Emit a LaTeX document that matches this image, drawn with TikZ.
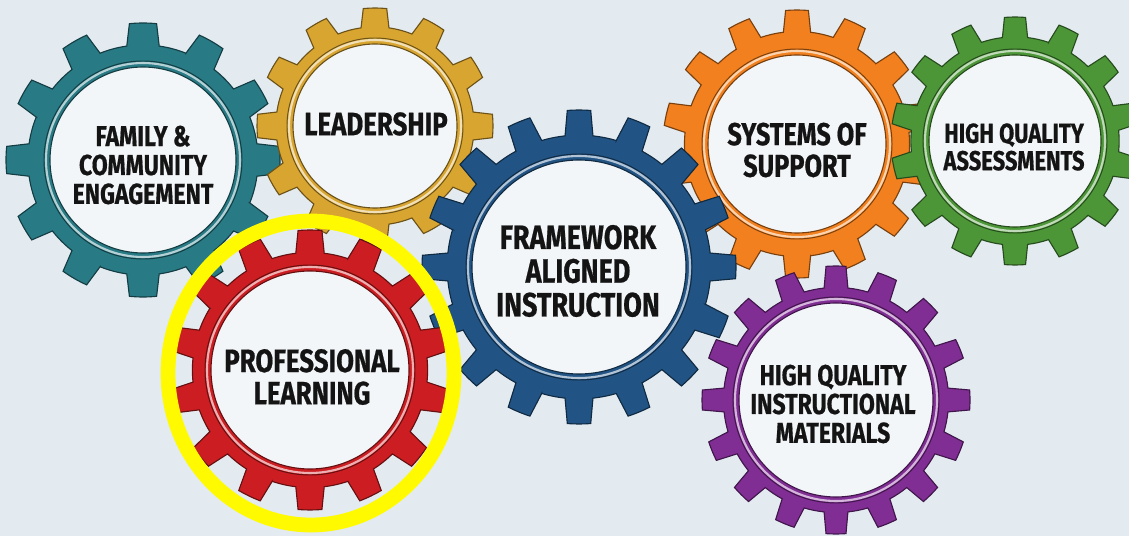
\documentclass[tikz,border=0pt]{standalone}
\usepackage{fontspec}
\usepackage{xcolor}
\usepackage{tikz}
\newfontfamily\gearfont{Fira Sans}[FakeStretch=0.8, BoldFeatures={FakeBold=0.6}]

\definecolor{bgblue}{RGB}{227,235,241}
\definecolor{innerwhite}{RGB}{243,246,248}
\definecolor{labelblack}{RGB}{20,20,20}
\definecolor{tealgear}{RGB}{40,122,133}
\definecolor{goldgear}{RGB}{216,165,48}
\definecolor{redgear}{RGB}{204,30,34}
\definecolor{bluegear}{RGB}{33,84,132}
\definecolor{orangegear}{RGB}{242,128,30}
\definecolor{greengear}{RGB}{76,150,56}
\definecolor{purplegear}{RGB}{128,45,148}
\definecolor{hiyellow}{RGB}{255,250,0}

\tikzset{
  gearlabel/.style={align=center, text=labelblack,
    font=\gearfont\bfseries\fontsize{#1}{#1}\selectfont},
  gearlabel/.default=23,
  highlight/.style={draw=hiyellow, line width=10.5pt},
}

% gear: centre, outer radius, teeth, colour, inner radius
\newcommand{\drawgear}[5]{%
  \begin{scope}[shift={#1}]
    \pgfmathsetmacro\gpitch{360/#3}
    \pgfmathsetmacro\gbase{0.27*\gpitch}
    \pgfmathsetmacro\gtip{0.19*\gpitch}
    \pgfmathsetmacro\groot{0.84*#2}
    \pgfmathsetmacro\gring{#5+4}
    \pgfmathsetmacro\gringout{#5+6}
    \pgfmathtruncatemacro\glast{#3-1}
    \filldraw[fill=#4, draw=#4!50!black, line width=0.8pt]
      (-90-\gbase:\groot)
      \foreach \k [evaluate=\k as \tA using {\k*\gpitch-90-\gbase},
                   evaluate=\k as \tB using {\k*\gpitch-90-\gtip},
                   evaluate=\k as \tC using {\k*\gpitch-90+\gtip},
                   evaluate=\k as \tD using {\k*\gpitch-90+\gbase},
                   evaluate=\k as \tE using {(\k+1)*\gpitch-90-\gbase}] in {0,...,\glast}
      { -- (\tA:\groot) -- (\tB:#2) arc[start angle=\tB, end angle=\tC, radius=#2]
        -- (\tD:\groot) arc[start angle=\tD, end angle=\tE, radius=\groot] }
      -- cycle;
    \draw[#4!50!black, line width=0.7pt] (0,0) circle[radius=\gringout];
    \draw[#4!35!white, line width=1.5pt] (0,0) circle[radius=\gring];
    \filldraw[fill=innerwhite, draw=#4!50!black, line width=0.8pt] (0,0) circle[radius=#5];
  \end{scope}}

\begin{document}
\begin{tikzpicture}[x=0.025cm, y=-0.025cm]
    % background
    \fill[bgblue] (0,0) rectangle (1129,536);
    \useasboundingbox (0,0) rectangle (1129,536);

    % Gears
    \drawgear{(143,160)}{137}{12}{tealgear}{93}
    \drawgear{(375,126)}{118}{12}{goldgear}{82}
    \drawgear{(797,144)}{134}{14}{orangegear}{89}
    \drawgear{(1015,141)}{124}{14}{greengear}{86}
    \drawgear{(579,267)}{157}{16}{bluegear}{107}
    \drawgear{(836,400)}{134}{16}{purplegear}{97}
    \drawgear{(310,370)}{140}{14}{redgear}{99}

    % highlight ring
    \draw[highlight] (311,373) ellipse[x radius=143, y radius=152];

    % Labels
    \node[gearlabel=20.5] (family) at (143,165) {FAMILY \&\\COMMUNITY\\ENGAGEMENT};
    \node[gearlabel=23] (leadership) at (376,124) {LEADERSHIP};
    \node[gearlabel=24] (framework) at (578,271) {FRAMEWORK\\ALIGNED\\INSTRUCTION};
    \node[gearlabel=22.5] (systems) at (797,150) {SYSTEMS OF\\SUPPORT};
    \node[gearlabel=19.5] (assessments) at (1014,147) {HIGH QUALITY\\ASSESSMENTS};
    \node[gearlabel=20.5] (materials) at (833,404) {HIGH QUALITY\\INSTRUCTIONAL\\MATERIALS};
    \node[gearlabel=23] (learning) at (312,377) {PROFESSIONAL\\LEARNING};
\end{tikzpicture}
\end{document}
